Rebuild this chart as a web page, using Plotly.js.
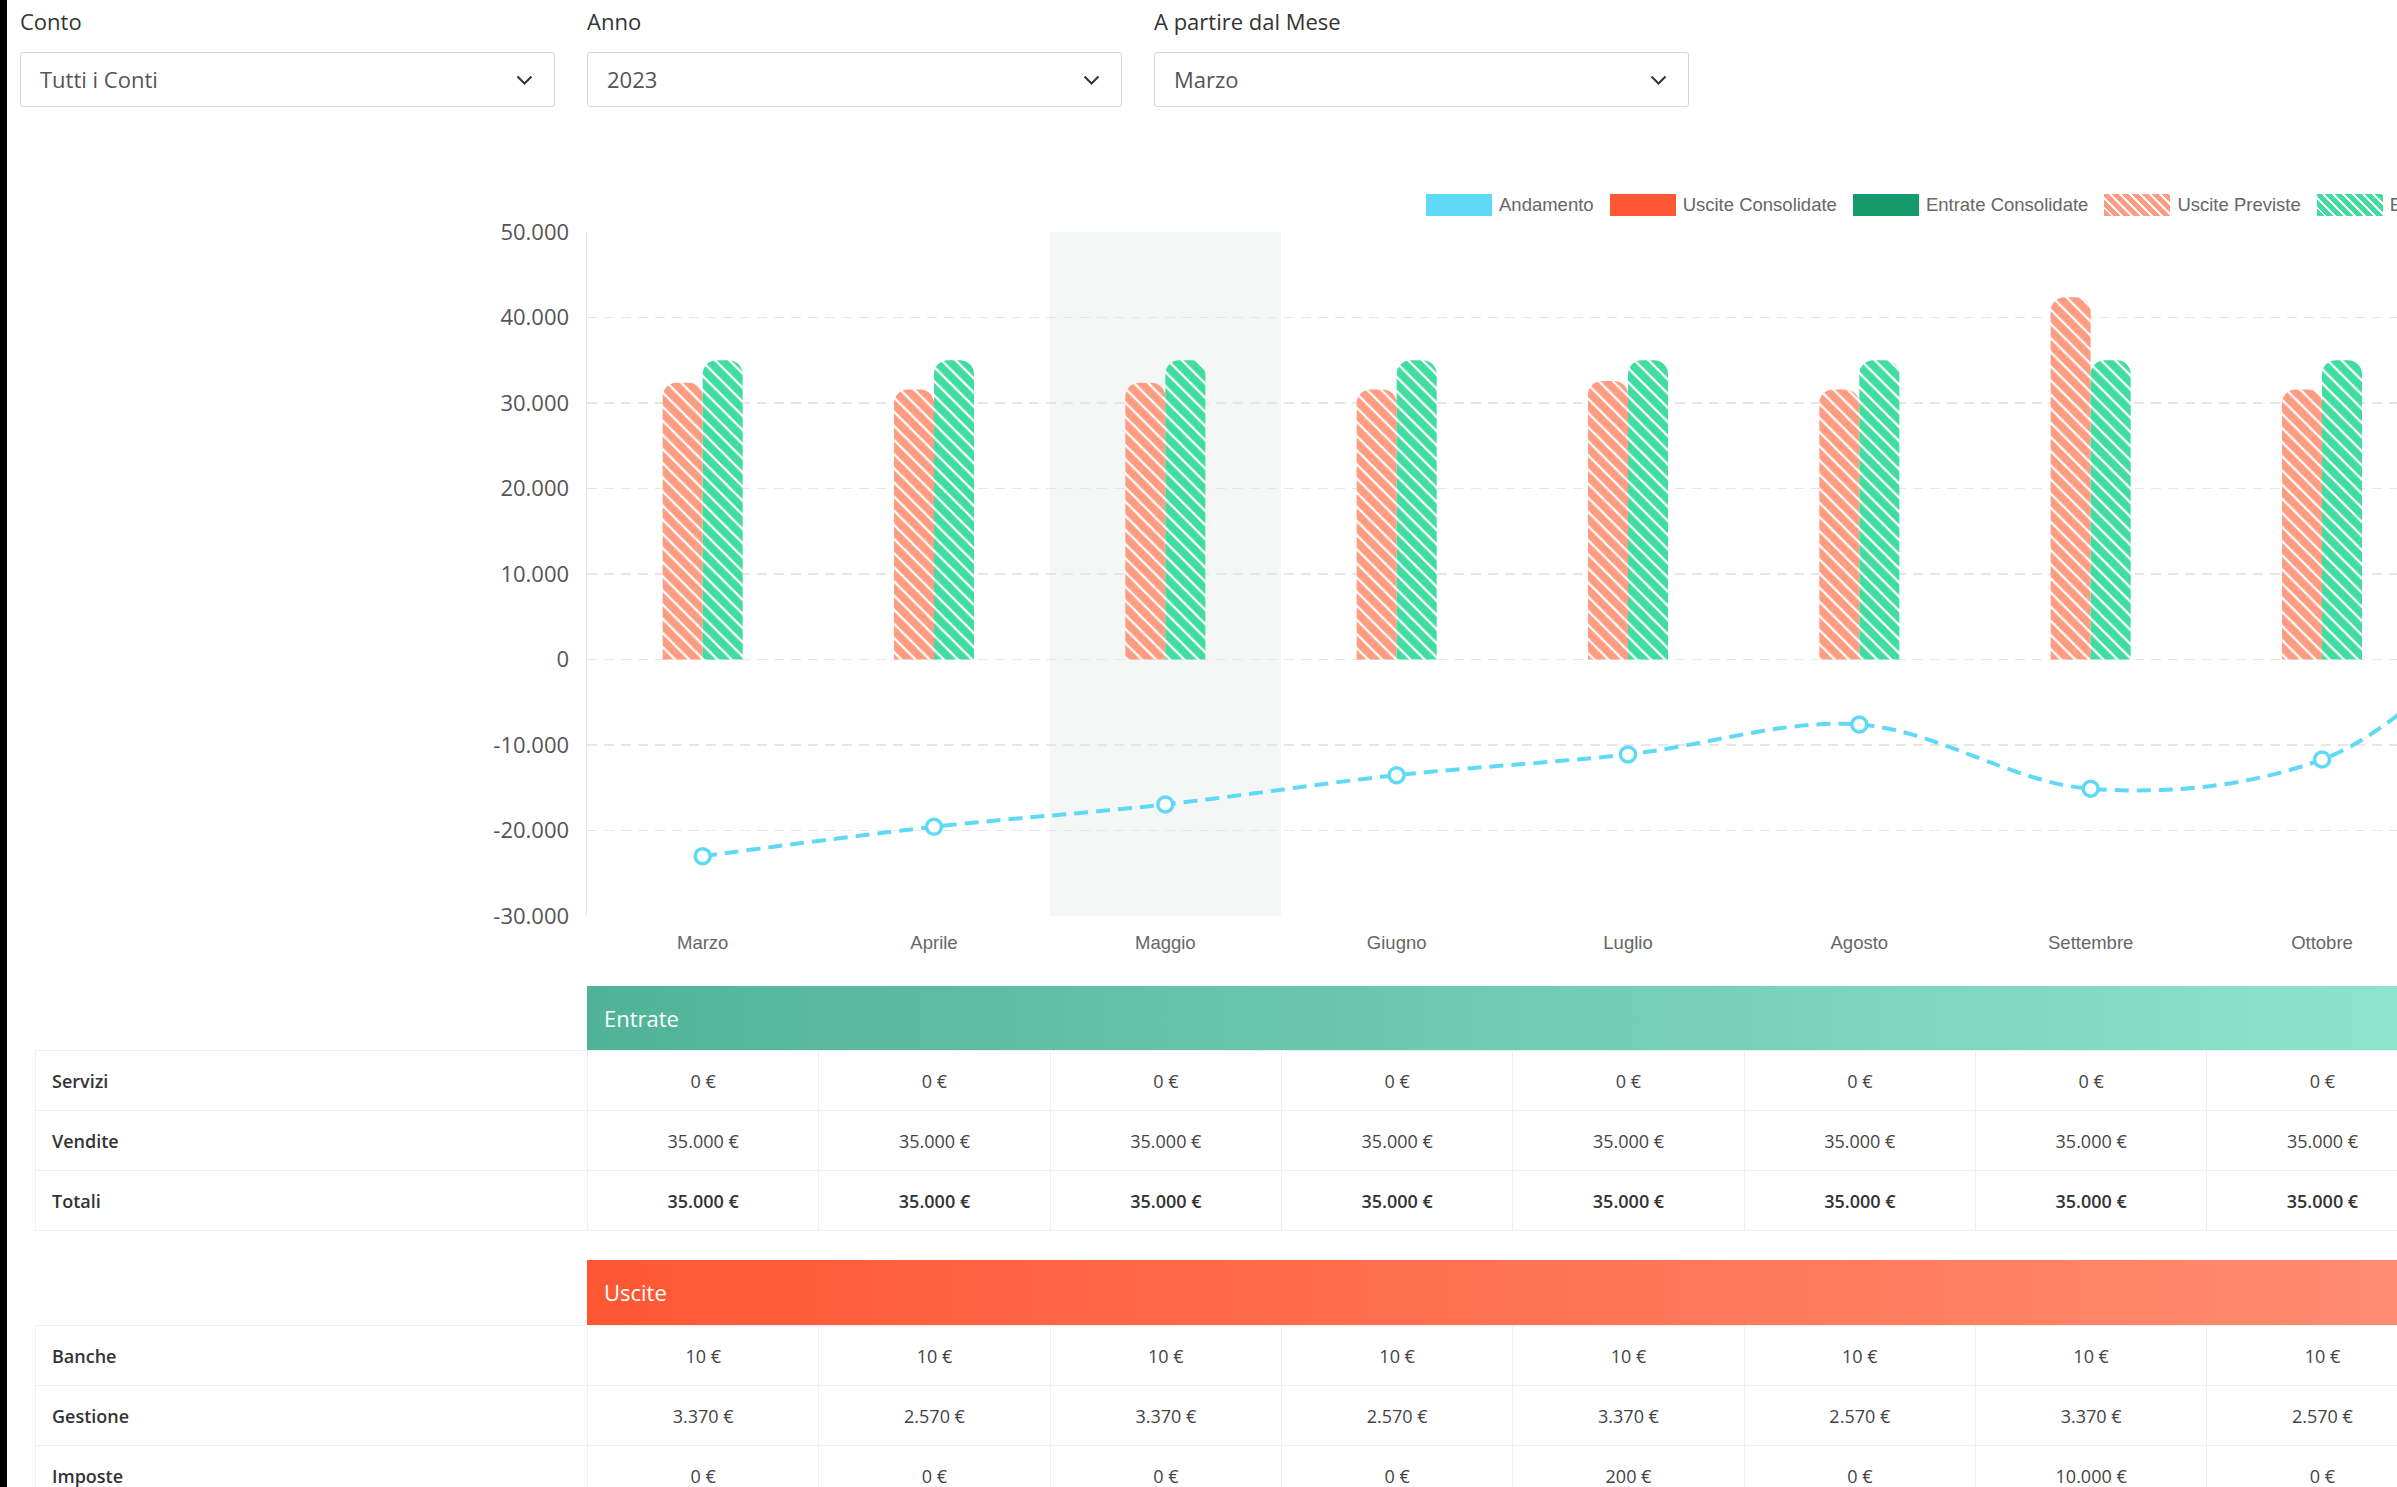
<!DOCTYPE html>
<html>
<head>
<meta charset="utf-8">
<script src="https://cdn.plot.ly/plotly-3.0.1.min.js"></script>
<style>
html,body{margin:0;padding:0;background:#fff;width:2397px;height:1487px;overflow:hidden;font-family:'Open Sans',sans-serif;}
#strip{position:absolute;left:0;top:0;width:7px;height:1487px;background:#000;z-index:20}
.flabel{position:absolute;top:6px;font-size:22px;color:#333;line-height:30px;white-space:nowrap}
.sel{position:absolute;top:52px;width:533px;height:53px;border:1px solid #d3d7da;border-radius:3px;background:#fff;box-sizing:content-box}
.sel span{position:absolute;left:19px;top:0;line-height:53px;font-size:22px;color:#555}
.sel svg{position:absolute;left:495px;top:22px}
#chart{position:absolute;left:0;top:0;width:3383px;height:980px}
#legend{position:absolute;top:194px;left:1426px;display:flex;align-items:center;white-space:nowrap;z-index:5;font-family:'Liberation Sans',Arial,sans-serif;font-size:18.5px;color:#666}
#legend .box{width:66px;height:22px;margin-right:7px;box-sizing:border-box}
#legend .txt{margin-right:16px}
.hdr{position:absolute;left:587px;width:2776px;color:#fff;font-size:22px;box-sizing:border-box;padding-left:17px}
table.tb{position:absolute;left:35px;width:3328px;border-collapse:collapse;table-layout:fixed;font-size:18px;color:#444}
table.tb td{border:1px solid #eef0f1;height:59px;padding:0;text-align:center;white-space:nowrap}
table.tb td.lab{text-align:left;padding-left:16px;font-weight:600;color:#333}
table.tb tr.tot td{font-weight:600;color:#333}
</style>
</head>
<body>
<div id="strip"></div>
<div id="top"></div>
<div id="chart"></div>
<div id="legend"></div>
<div id="tables"></div>
<script>
// ---- data ----
const months = ['Marzo','Aprile','Maggio','Giugno','Luglio','Agosto','Settembre','Ottobre','Novembre','Dicembre','Gennaio','Febbraio'];
const andamento = [-23000,-19570,-16950,-13530,-11100,-7600,-15120,-11700,6000,9000,12000,15000];
const usciteConsolidate = [0,0,0,0,0,0,0,0,0,0,0,0];
const entrateConsolidate = [0,0,0,0,0,0,0,0,0,0,0,0];
const uscitePreviste = [32380,31580,32380,31580,32580,31580,42380,31580,32380,31580,32380,31580];
const entratePreviste = [35000,35000,35000,35000,35000,35000,35000,35000,35000,35000,35000,35000];
const yTickVals = [-30000,-20000,-10000,0,10000,20000,30000,40000,50000];
const yTickText = ['-30.000','-20.000','-10.000','0','10.000','20.000','30.000','40.000','50.000'];
const highlightMonth = 'Maggio';

const seriesNames = ['Andamento','Uscite Consolidate','Entrate Consolidate','Uscite Previste','Entrate Previste'];
const seriesColors = ['#5fdaf6','#ff5733','#169a6b','#ff9c82','#41dca0'];
const seriesHatched = [false,false,false,true,true];

const filterLabels = ['Conto','Anno','A partire dal Mese'];
const filterValues = ['Tutti i Conti','2023','Marzo'];

const entrateRows = ['Servizi','Vendite','Totali'];
const entrateServizi = [0,0,0,0,0,0,0,0,0,0,0,0];
const entrateVendite = [35000,35000,35000,35000,35000,35000,35000,35000,35000,35000,35000,35000];
const entrateTotali = [35000,35000,35000,35000,35000,35000,35000,35000,35000,35000,35000,35000];
const usciteRows = ['Banche','Gestione','Imposte'];
const usciteBanche = [10,10,10,10,10,10,10,10,10,10,10,10];
const usciteGestione = [3370,2570,3370,2570,3370,2570,3370,2570,3370,2570,3370,2570];
const usciteImposte = [0,0,0,0,200,0,10000,0,0,0,0,0];

// ---- filters ----
const topDiv = document.getElementById('top');
const filterX = [20,587,1154];
filterLabels.forEach((l,i)=>{
  const lab = document.createElement('div');
  lab.className='flabel'; lab.style.left=filterX[i]+'px'; lab.textContent=l; topDiv.appendChild(lab);
  const s = document.createElement('div');
  s.className='sel'; s.style.left=filterX[i]+'px';
  s.innerHTML='<span>'+filterValues[i]+'</span><svg width="17" height="11" viewBox="0 0 17 11"><polyline points="1.5,1.5 8.5,8.5 15.5,1.5" fill="none" stroke="#333" stroke-width="2"/></svg>';
  topDiv.appendChild(s);
});

// ---- legend ----
const leg = document.getElementById('legend');
seriesNames.forEach((n,i)=>{
  const b = document.createElement('div'); b.className='box';
  if(seriesHatched[i]){
    b.style.background='repeating-linear-gradient(45deg,'+seriesColors[i]+' 0px,'+seriesColors[i]+' 5px,rgba(255,255,255,0.9) 5px,rgba(255,255,255,0.9) 7px)';
  } else {
    b.style.background=seriesColors[i];
  }
  const t = document.createElement('div'); t.className='txt'; t.textContent=n;
  leg.appendChild(b); leg.appendChild(t);
});

// ---- chart ----
const hi = months.indexOf(highlightMonth);
const barPattern = c => ({shape:'\\', bgcolor:c, fgcolor:'#ffffff', size:10, solidity:0.22, fillmode:'replace'});
const traces = [
  {type:'bar', name:seriesNames[1], x:months, y:usciteConsolidate, offsetgroup:'u', marker:{color:seriesColors[1], line:{width:0}, cornerradius:14}},
  {type:'bar', name:seriesNames[2], x:months, y:entrateConsolidate, offsetgroup:'e', marker:{color:seriesColors[2], line:{width:0}, cornerradius:14}},
  {type:'bar', name:seriesNames[3], x:months, y:uscitePreviste, offsetgroup:'u', marker:{color:seriesColors[3], line:{width:0}, cornerradius:14, pattern:barPattern(seriesColors[3])}},
  {type:'bar', name:seriesNames[4], x:months, y:entratePreviste, offsetgroup:'e', marker:{color:seriesColors[4], line:{width:0}, cornerradius:14, pattern:barPattern(seriesColors[4])}},
  {type:'scatter', mode:'lines+markers', name:seriesNames[0], x:months, y:andamento,
   line:{color:seriesColors[0], width:4, dash:'14px,8px', shape:'spline', smoothing:1},
   marker:{symbol:'circle', size:15, color:'#ffffff', line:{color:seriesColors[0], width:3.5}}}
];
const layout = {
  width:3383, height:980,
  margin:{l:587, r:20, t:232, b:64, pad:0},
  paper_bgcolor:'rgba(0,0,0,0)', plot_bgcolor:'rgba(0,0,0,0)',
  barmode:'group', bargap:0.654, bargroupgap:0,
  showlegend:false,
  font:{family:'Open Sans', color:'#555'},
  xaxis:{type:'category', range:[-0.5, months.length-0.5], showgrid:false, zeroline:false, showline:false,
    ticks:'outside', ticklen:10, tickcolor:'rgba(0,0,0,0)',
    tickfont:{family:'Liberation Sans, Arial, sans-serif', size:18.5, color:'#666'}},
  yaxis:{range:[-30000,50000], tickvals:yTickVals, ticktext:yTickText,
    showgrid:true, gridcolor:'#e6e6e6', gridwidth:1.5, griddash:'10px,7px',
    zeroline:false, showline:true, linecolor:'#e6e6e6', linewidth:1.5,
    ticks:'outside', ticklen:12, tickcolor:'rgba(0,0,0,0)',
    tickfont:{family:'Open Sans', size:22, color:'#555'}},
  shapes:[{type:'rect', xref:'x', yref:'paper', x0:hi-0.5, x1:hi+0.5, y0:0, y1:1, fillcolor:'#f5f6f6', line:{width:0}, layer:'below'}]
};
Plotly.newPlot('chart', traces, layout, {displayModeBar:false, staticPlot:true});

// ---- tables ----
const fmt = n => String(n).replace(/\B(?=(\d{3})+(?!\d))/g,'.') + ' €';
const tablesDiv = document.getElementById('tables');
function section(title, grad, hdrTop, hdrH, rows, data, totalRow){
  const h = document.createElement('div');
  h.className='hdr'; h.style.top=hdrTop+'px'; h.style.height=hdrH+'px'; h.style.lineHeight=hdrH+'px';
  h.style.background=grad; h.textContent=title; tablesDiv.appendChild(h);
  const t = document.createElement('table'); t.className='tb'; t.style.top=(hdrTop+hdrH)+'px';
  let cg='<colgroup><col style="width:552px">';
  months.forEach(()=>{cg+='<col style="width:231.33px">';});
  cg+='</colgroup>';
  let html=cg;
  rows.forEach((r,ri)=>{
    html+='<tr'+(ri===totalRow?' class="tot"':'')+'><td class="lab">'+r+'</td>';
    data[ri].forEach(v=>{html+='<td>'+fmt(v)+'</td>';});
    html+='</tr>';
  });
  t.innerHTML=html; tablesDiv.appendChild(t);
}
section('Entrate','linear-gradient(90deg,#50b398 0px,#8ee3cc 1810px,#a3ebd7 2776px)',986,64,entrateRows,[entrateServizi,entrateVendite,entrateTotali],2);
section('Uscite','linear-gradient(90deg,#ff5733 0px,#ff8c71 1810px,#ffa18a 2776px)',1260,65,usciteRows,[usciteBanche,usciteGestione,usciteImposte],-1);
</script>
</body>
</html>
